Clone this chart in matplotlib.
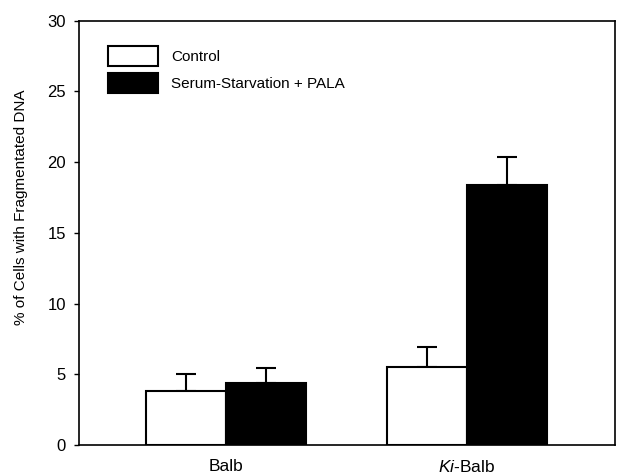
import numpy as np
import matplotlib
matplotlib.use("Agg")
from matplotlib import pyplot as plt

# strains on the x axis
strains = ["Balb", "$\\it{Ki}$-Balb"]
series_names = ["Control", "Serum-Starvation + PALA"]

# % of cells with fragmented DNA
control_vals = [3.85, 5.5]
control_err = [1.15, 1.45]
starved_vals = [4.4, 18.4]
starved_err = [1.05, 1.95]

y_ticks = [0, 5, 10, 15, 20, 25, 30]

plt.rcParams['font.family'] = ['Liberation Sans', 'DejaVu Sans']
plt.rcParams['mathtext.fontset'] = 'custom'
plt.rcParams['mathtext.it'] = 'Liberation Sans:italic'
plt.rcParams['mathtext.rm'] = 'Liberation Sans'


if __name__ == '__main__':
    fig = plt.figure(figsize=(6.17, 4.76), dpi=100)
    ax = fig.add_axes([0.128, 0.065, 0.869, 0.8915])

    xs = np.arange(len(strains))
    w = 0.332

    bar_prms = {"edgecolor": "black", "linewidth": 1.5, "zorder": 2}
    err_prms = {"fmt": "none", "ecolor": "black", "elinewidth": 1.5,
                "capsize": 7, "capthick": 1.5, "zorder": 1}

    ax.bar(xs - w / 2, control_vals, w, color="white", label=series_names[0], **bar_prms)
    ax.bar(xs + w / 2, starved_vals, w, color="black", label=series_names[1], **bar_prms)

    ax.errorbar(xs - w / 2, control_vals, yerr=[np.zeros(len(xs)), control_err], **err_prms)
    ax.errorbar(xs + w / 2, starved_vals, yerr=[np.zeros(len(xs)), starved_err], **err_prms)

    ax.set_xlim(-0.611, 1.616)
    ax.set_ylim(0, 30)
    ax.set_yticks(y_ticks)
    ax.set_xticks(xs)
    ax.set_xticklabels(strains, fontsize=12.5)
    ax.tick_params(axis="x", length=0, pad=10)
    ax.tick_params(axis="y", length=3.5, width=1, pad=6, labelsize=12)
    for sp in ax.spines.values():
        sp.set_linewidth(1.2)

    ax.set_ylabel("% of Cells with Fragmentated DNA", fontsize=11)
    # label sits a bit above the axis middle in the original
    ax.yaxis.set_label_coords(-0.095, 0.561)

    ax.legend(loc="upper left", bbox_to_anchor=(0.054, 0.94), frameon=False,
              fontsize=11, handlelength=3.3, handleheight=1.6,
              labelspacing=0.5, handletextpad=0.85, borderpad=0, borderaxespad=0)

    fig.savefig("out.png", dpi=100)
